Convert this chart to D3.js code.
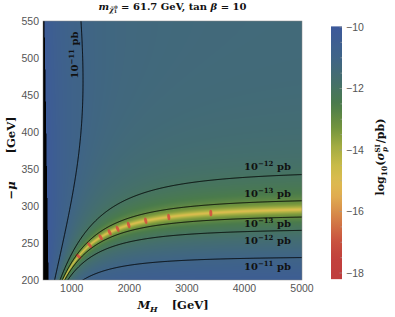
<!DOCTYPE html>
<html><head><meta charset="utf-8">
<script src="https://cdn.jsdelivr.net/npm/d3@7"></script>
<style>body{margin:0;background:#fff} svg{display:block}</style>
</head><body>
<svg id="chart" width="395" height="317"></svg>
<script>
// ---------------- data ----------------
const mhDomain = [500, 5000];
const muDomain = [200, 550];
const xTicks = [1000, 2000, 3000, 4000, 5000];
const yTicks = [200, 250, 300, 350, 400, 450, 500, 550];
const cbTicks = [-10, -12, -14, -16, -18];
const cbMinorTicks = [-10.5, -11, -11.5, -12.5, -13, -13.5, -14.5, -15, -15.5, -16.5, -17, -17.5];
const cbRange = [-9.98, -18.2];
const contourLevels = [-13, -12, -11];
// blind-spot model (band position and contour spacing)
const mChi = 61.7;
const hCoef = [0.206, 75000];
const normOffset = -3.88;
const floorLog = -14.95;
// black excluded wedge at the left edge
const blackEdgeMu = [200, 550];
const blackEdgeMH = [596, 526];
// red sample spots along the blind-spot band
const redMarkMH = [1118, 1310, 1501, 1658, 1797, 1989, 2285, 2685, 3416];
// colour scheme (value -> colour)
const colorValues = [-10, -11, -11.8, -12.5, -13.3, -13.9, -14.5, -15.0, -15.5, -16.0, -16.5, -17.0, -17.5, -18];
const colorHex = ["#3c599b", "#3f6487", "#45706a", "#4a7b4c", "#74953d", "#a4ad42", "#c8bb48", "#dcbb50", "#e0ad50", "#d88e4a", "#d06e44", "#c8503f", "#c2413d", "#c03d3d"];
// contour labels
const labelExp = ["−12", "−13", "−13", "−12", "−11"];
const labelMH = [4400, 4400, 4400, 4400, 4400];
const labelMu = [348, 312, 271, 249, 213];
const vLabelExp = "−11", vLabelMH = 1108, vLabelMu = 504;

// ---------------- layout ----------------
const L = 43, R = 302, T = 21, B = 280;
const x = d3.scaleLinear(mhDomain, [L, R]);
const y = d3.scaleLinear(muDomain, [B, T]);
const cb = d3.scaleLinear([-10, -18], [27, 273]);
const color = d3.scaleLinear(colorValues, colorHex).clamp(true);
const blackEdge = d3.scaleLinear(blackEdgeMu, blackEdgeMH);
const floorA2 = Math.pow(10, floorLog - normOffset);

function field(MH, u) {
  const F = mChi - hCoef[0] * u - hCoef[1] * u / (MH * MH);
  const D = u * u - mChi * mChi;
  const a2 = (F / D) * (F / D);
  return Math.log10(a2 + floorA2) + normOffset;
}
function bandMu(MH) { return mChi / (hCoef[0] + hCoef[1] / (MH * MH)); }

const svg = d3.select("#chart");
const defs = svg.append("defs");
defs.append("clipPath").attr("id", "clip").append("rect")
  .attr("x", L).attr("y", T).attr("width", R - L).attr("height", B - T);

// ---- density image ----
const ss = 2;
const W = (R - L) * ss, H = (B - T) * ss;
const cv = document.createElement("canvas");
cv.width = W; cv.height = H;
const ctx = cv.getContext("2d");
const img = ctx.createImageData(W, H);
const lut = d3.range(0, 1001).map(i => d3.rgb(color(-10 - i * 0.009)));
for (let py = 0; py < H; py++) {
  const u = y.invert(T + (py + 0.5) / ss);
  const edge = blackEdge(u);
  for (let px = 0; px < W; px++) {
    const MH = x.invert(L + (px + 0.5) / ss);
    const k = (py * W + px) * 4;
    if (MH < edge) { img.data[k] = 0; img.data[k+1] = 0; img.data[k+2] = 0; img.data[k+3] = 255; continue; }
    const v = field(MH, u);
    let idx = Math.round((-10 - v) / 0.009);
    idx = Math.max(0, Math.min(1000, idx));
    const c = lut[idx];
    img.data[k] = c.r; img.data[k+1] = c.g; img.data[k+2] = c.b; img.data[k+3] = 255;
  }
}
ctx.putImageData(img, 0, 0);
const plot = svg.append("g").attr("clip-path", "url(#clip)");
plot.append("image").attr("x", L).attr("y", T).attr("width", R - L).attr("height", B - T)
  .attr("preserveAspectRatio", "none").attr("href", cv.toDataURL());

// ---- red spots ----
plot.selectAll("ellipse.red").data(redMarkMH).join("ellipse")
  .attr("class", "red")
  .attr("rx", 1.5).attr("ry", 3.3)
  .attr("fill", "#d24a3e").attr("opacity", 0.85)
  .attr("transform", d => {
    const p1 = [x(d), y(bandMu(d))], p2 = [x(d + 20), y(bandMu(d + 20))];
    const ang = Math.atan2(p2[1] - p1[1], p2[0] - p1[0]) * 180 / Math.PI;
    return `translate(${p1[0]},${p1[1]}) rotate(${ang})`;
  });

// ---- contours ----
const nx = 420, ny = 360;
const gMH = d3.scaleLinear([0, nx - 1], [420, 5080]);
const gMu = d3.scaleLinear([0, ny - 1], [185, 565]);
const vals = new Float64Array(nx * ny);
for (let j = 0; j < ny; j++) for (let i = 0; i < nx; i++) vals[j * nx + i] = field(gMH(i), gMu(j));
const contours = d3.contours().size([nx, ny]).thresholds(contourLevels)(vals);
const proj = d3.geoTransform({ point: function (px, py) { this.stream.point(x(gMH(px - 0.5)), y(gMu(py - 0.5))); } });
const path = d3.geoPath(proj);
plot.selectAll("path.ct").data(contours).join("path").attr("class", "ct")
  .attr("d", path).attr("fill", "none").attr("stroke", "#000").attr("stroke-width", 0.9);

// ---- contour labels ----
const serif = "DejaVu Serif";
const lab = plot.selectAll("text.cl").data(labelExp).join("text").attr("class", "cl")
  .attr("x", (d, i) => x(labelMH[i])).attr("y", (d, i) => y(labelMu[i]))
  .attr("text-anchor", "middle").attr("font-family", serif).attr("font-weight", "bold")
  .attr("font-size", 10).attr("fill", "#111");
lab.append("tspan").text("10");
lab.append("tspan").attr("dy", -4).attr("font-size", 7).text(d => d);
lab.append("tspan").attr("dy", 4).text(" pb");
const vl = plot.append("text")
  .attr("transform", `translate(${x(vLabelMH)},${y(vLabelMu)}) rotate(-90)`)
  .attr("text-anchor", "middle").attr("font-family", serif).attr("font-weight", "bold")
  .attr("font-size", 10).attr("fill", "#111");
vl.append("tspan").text("10");
vl.append("tspan").attr("dy", -4).attr("font-size", 7).text(vLabelExp);
vl.append("tspan").attr("dy", 4).text(" pb");

// ---- frame ----
svg.append("rect").attr("x", L).attr("y", T).attr("width", R - L).attr("height", B - T)
  .attr("fill", "none").attr("stroke", "#888").attr("stroke-width", 0.5);

// ---- tick labels ----
const sans = "Liberation Sans, Arial, sans-serif";
svg.append("g").selectAll("text").data(xTicks).join("text")
  .attr("x", d => x(d)).attr("y", 292).attr("text-anchor", "middle")
  .attr("font-family", sans).attr("font-size", 10.5).attr("fill", "#555").text(d => d);
svg.append("g").selectAll("text").data(yTicks).join("text")
  .attr("x", 39).attr("y", d => y(d)).attr("dy", "0.36em").attr("text-anchor", "end")
  .attr("font-family", sans).attr("font-size", 10.5).attr("fill", "#555").text(d => d);

// ---- axis labels ----
const xl = svg.append("text").attr("x", 173).attr("y", 309).attr("text-anchor", "middle")
  .attr("font-family", serif).attr("font-weight", "bold").attr("font-size", 11.5).attr("fill", "#111");
xl.append("tspan").attr("font-style", "italic").text("M");
xl.append("tspan").attr("font-style", "italic").attr("font-size", 8).attr("dy", 2.5).text("H");
xl.append("tspan").attr("dy", -2.5).attr("dx", 14).text("[GeV]");

const yl = svg.append("text").attr("transform", "translate(15,158) rotate(-90)").attr("text-anchor", "middle")
  .attr("font-family", serif).attr("font-weight", "bold").attr("font-size", 11.5).attr("fill", "#111");
yl.append("tspan").text("−");
yl.append("tspan").attr("font-style", "italic").text("μ");
yl.append("tspan").attr("dx", 28).text("[GeV]");

// ---- title ----
const tt = svg.append("text").attr("x", 172.5).attr("y", 10).attr("text-anchor", "middle")
  .attr("font-family", serif).attr("font-weight", "bold").attr("font-size", 10).attr("fill", "#111");
tt.append("tspan").attr("font-style", "italic").text("m");
tt.append("tspan").attr("font-style", "italic").attr("font-size", 7).attr("dy", 2).text("χ̃");
tt.append("tspan").attr("font-size", 4.8).attr("dy", 1).text("1");
tt.append("tspan").attr("font-size", 4.8).attr("dy", -4.5).attr("dx", -2.8).text("0");
tt.append("tspan").attr("dy", 1.5).text(" = 61.7 GeV,  tan ");
tt.append("tspan").attr("font-style", "italic").text("β");
tt.append("tspan").text(" = 10");

// ---- colour bar ----
const cbTop = cb(cbRange[0]), cbBot = cb(cbRange[1]);
const grad = defs.append("linearGradient").attr("id", "cbgrad").attr("x1", 0).attr("x2", 0).attr("y1", 0).attr("y2", 1);
grad.selectAll("stop").data(d3.range(0, 41)).join("stop")
  .attr("offset", d => d / 40)
  .attr("stop-color", d => color(cb.invert(cbTop + d / 40 * (cbBot - cbTop))));
svg.append("rect").attr("x", 331).attr("y", cbTop).attr("width", 11).attr("height", cbBot - cbTop)
  .attr("fill", "url(#cbgrad)");
svg.append("g").selectAll("line").data(cbMinorTicks).join("line")
  .attr("x1", 340.5).attr("x2", 342).attr("y1", d => cb(d)).attr("y2", d => cb(d))
  .attr("stroke", "#aaa").attr("stroke-width", 0.6);
svg.append("g").selectAll("line").data(cbTicks).join("line")
  .attr("x1", 339.5).attr("x2", 342).attr("y1", d => cb(d)).attr("y2", d => cb(d))
  .attr("stroke", "#999").attr("stroke-width", 0.7);
svg.append("g").selectAll("text").data(cbTicks).join("text")
  .attr("x", 346).attr("y", d => cb(d)).attr("dy", "0.36em")
  .attr("font-family", sans).attr("font-size", 10.5).attr("fill", "#555")
  .text(d => "−" + Math.abs(d));
const cl = svg.append("text").attr("transform", "translate(384,157) rotate(-90)").attr("text-anchor", "middle")
  .attr("font-family", serif).attr("font-weight", "bold").attr("font-size", 11).attr("fill", "#111");
cl.append("tspan").text("log");
cl.append("tspan").attr("font-size", 7.5).attr("dy", 2.5).text("10");
cl.append("tspan").attr("dy", -2.5).text("(");
cl.append("tspan").attr("font-style", "italic").text("σ");
cl.append("tspan").attr("font-size", 7).attr("dy", -4).text("SI");
cl.append("tspan").attr("font-size", 7).attr("font-style", "italic").attr("dy", 7).attr("dx", -8).text("p");
cl.append("tspan").attr("dy", -3).attr("dx", 4).text("/pb)");
</script>
</body></html>
